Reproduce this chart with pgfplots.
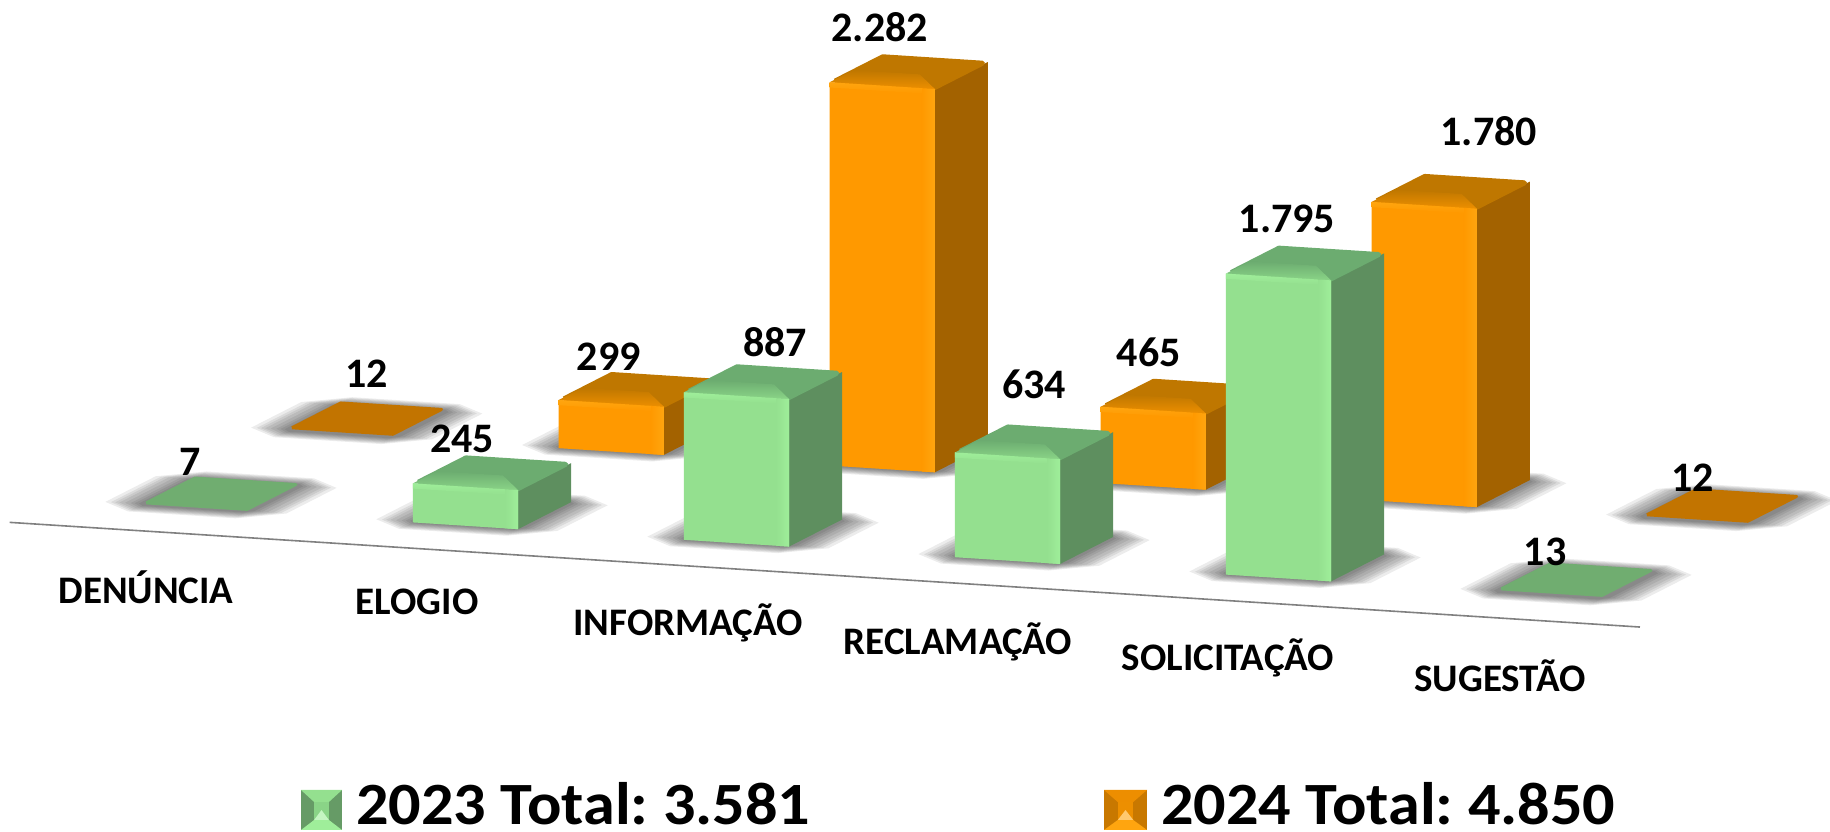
\documentclass[border=0pt]{standalone}
\usepackage{pgfplots}
\pgfplotsset{compat=1.18}
\usepackage{fontspec}
\setmainfont{Carlito}
\frenchspacing
\definecolor{gF}{HTML}{94E08F}\definecolor{gH}{HTML}{9FEE9A}\definecolor{gS}{HTML}{5E8F5F}
\definecolor{gT}{HTML}{6CAC70}\definecolor{gB}{HTML}{8AD487}\definecolor{gFlat}{HTML}{70AD70}
\definecolor{oF}{HTML}{FF9900}\definecolor{oH}{HTML}{FFA50F}\definecolor{oS}{HTML}{A36200}
\definecolor{oT}{HTML}{BF7700}\definecolor{oB}{HTML}{ED8F00}\definecolor{oFlat}{HTML}{C27400}
% shadow on the floor under a bar: cat, depth position, x spread, y spread
\newcommand\shadowlayer[4]{%
  \pgfmathsetmacro\sxa{#1-0.194-#3}\pgfmathsetmacro\sxb{#1+0.194+#3}%
  \pgfmathsetmacro\sya{#2-#4}\pgfmathsetmacro\syb{#2+1+#4}%
  \pgfmathsetmacro\sxc{\sxa+0.9*#3+0.01}\pgfmathsetmacro\sxd{\sxb-0.9*#3-0.01}%
  \pgfmathsetmacro\syc{\sya+0.9*#4+0.05}\pgfmathsetmacro\syd{\syb-0.9*#4-0.05}%
  \addplot3[forget plot,draw=none,fill=black,fill opacity=0.075] coordinates {(\sxc,\sya,0)(\sxd,\sya,0)(\sxb,\syc,0)(\sxb,\syd,0)(\sxd,\syb,0)(\sxc,\syb,0)(\sxa,\syd,0)(\sxa,\syc,0)(\sxc,\sya,0)};}
\newcommand\shadow[2]{%
  \shadowlayer{#1}{#2}{0.14}{0.24}\shadowlayer{#1}{#2}{0.12}{0.21}\shadowlayer{#1}{#2}{0.105}{0.18}%
  \shadowlayer{#1}{#2}{0.09}{0.15}\shadowlayer{#1}{#2}{0.07}{0.12}\shadowlayer{#1}{#2}{0.05}{0.09}%
  \shadowlayer{#1}{#2}{0.035}{0.06}\shadowlayer{#1}{#2}{0.02}{0.03}}
% bar: cat, depth position, value, colour prefix
\newcommand\barthree[4]{%
  \pgfmathsetmacro\xa{#1-0.194}\pgfmathsetmacro\xb{#1+0.194}\pgfmathsetmacro\xc{#1+0.194-0.048}%
  \pgfmathsetmacro\xd{#1+0.194-0.144}\pgfmathsetmacro\xi{#1-0.194+0.01}\pgfmathsetmacro\xj{#1+0.194-0.01}%
  \pgfmathsetmacro\ya{#2}\pgfmathsetmacro\yb{#2+1}\pgfmathsetmacro\ym{#2+0.45}\pgfmathsetmacro\yi{#2+0.05}\pgfmathsetmacro\yj{#2+0.95}%
  \pgfmathsetmacro\zt{#3}\pgfmathsetmacro\zs{#3-45}\pgfmathsetmacro\zu{#3-14}%
  \addplot3[forget plot,draw=none,fill=#4S] coordinates {(\xb,\ya,0)(\xb,\yb,0)(\xb,\yb,\zu)(\xb,\ya,\zu)(\xb,\ya,0)};
  \addplot3[forget plot,draw=#4T,line width=5pt,line join=round,fill=#4T] coordinates {(\xi,\yi,\zu)(\xj,\yi,\zu)(\xj,\yj,\zu)(\xi,\yj,\zu)(\xi,\yi,\zu)};
  \addplot3[forget plot,draw=none,top color=#4T,bottom color=#4B] coordinates {(\xa,\ya,\zu)(\xb,\ya,\zu)(\xd,\ym,\zu)(\xa,\ym,\zu)(\xa,\ya,\zu)};
  \addplot3[forget plot,draw=none,fill=#4F] coordinates {(\xa,\ya,0)(\xb,\ya,0)(\xb,\ya,\zu)(\xa,\ya,\zu)(\xa,\ya,0)};
  \addplot3[forget plot,draw=none,left color=#4F,right color=#4H] coordinates {(\xc,\ya,0)(\xb,\ya,0)(\xb,\ya,\zu)(\xc,\ya,\zu)(\xc,\ya,0)};
  \addplot3[forget plot,draw=none,top color=#4H,bottom color=#4F] coordinates {(\xa,\ya,\zs)(\xc,\ya,\zs)(\xc,\ya,\zu)(\xa,\ya,\zu)(\xa,\ya,\zs)};
}
\newcommand\flatbar[4]{%
  \pgfmathsetmacro\xa{#1-0.194+0.008}\pgfmathsetmacro\xb{#1+0.194-0.008}%
  \pgfmathsetmacro\ya{#2+0.04}\pgfmathsetmacro\yb{#2+0.96}%
  \addplot3[forget plot,draw=#4Flat,line width=3pt,line join=round,fill=#4Flat] coordinates {(\xa,\ya,#3)(\xb,\ya,#3)(\xb,\yb,#3)(\xa,\yb,#3)(\xa,\ya,#3)};
}
% value label: cat, depth centre, value, text, xshift, yshift
\newcommand\vlab[6]{\node[font=\fontsize{42}{42}\selectfont\bfseries,xshift=#5pt,yshift=#6pt] at (axis cs:#1,#2,#3) {#4};}
\newcommand\clab[3]{\node[font=\fontsize{39}{39}\selectfont\bfseries] at (#1pt,832pt-#2pt) {#3};}
% legend swatch: left, width; colours
\newcommand\swatch[6]{%
  \fill[#3] (#1pt,2pt) rectangle (#1pt+#2pt,42pt);
  \fill[#4] (#1pt,42pt) -- (#1pt+#2pt,42pt) -- (#1pt+#2pt*0.68,30pt) -- (#1pt+#2pt*0.32,30pt) -- cycle;
  \fill[#5] (#1pt,2pt) -- (#1pt+#2pt,2pt) -- (#1pt+#2pt*0.68,12pt) -- (#1pt+#2pt*0.32,12pt) -- cycle;
  \fill[#6] (#1pt+#2pt*0.32,12pt) rectangle (#1pt+#2pt*0.68,30pt);
  \fill[#5!60!white] (#1pt+#2pt*0.5,22pt) -- (#1pt+#2pt*0.68,12pt) -- (#1pt+#2pt*0.32,12pt) -- cycle;}
\begin{document}
\begin{tikzpicture}[x=1pt,y=1pt]
\path[use as bounding box] (0pt,0pt) rectangle (1830pt,832pt);
\begin{axis}[
  at={(194.5pt,323.6pt)},anchor=origin,hide axis,clip=false,
  x={(271pt,-17.4pt)},y={(53pt,27pt)},z={(0pt,0.169pt)},
  xmin=-1,xmax=6,ymin=-2,ymax=5,zmin=-100,zmax=2400]
% shadows
\shadow{0}{2.75}\shadow{1}{2.75}\shadow{2}{2.75}\shadow{3}{2.75}\shadow{4}{2.75}\shadow{5}{2.75}
\shadow{0}{0}\shadow{1}{0}\shadow{2}{0}\shadow{3}{0}\shadow{4}{0}\shadow{5}{0}
% floor line
\addplot3[forget plot,draw=black!50,line width=1.6pt,mark=none] coordinates {(-0.516,-0.85,0)(5.5,-0.85,0)};
% 2024
\flatbar{0}{2.75}{12}{o}
\barthree{1}{2.75}{299}{o}
\barthree{2}{2.75}{2282}{o}
\barthree{3}{2.75}{465}{o}
\barthree{4}{2.75}{1780}{o}
\flatbar{5}{2.75}{12}{o}
% 2023
\flatbar{0}{0}{7}{g}
\barthree{1}{0}{245}{g}
\barthree{2}{0}{887}{g}
\barthree{3}{0}{634}{g}
\barthree{4}{0}{1795}{g}
\flatbar{5}{0}{13}{g}
% value labels
\vlab{0}{0.5}{7}{7}{-31}{32}
\vlab{0}{3.25}{12}{12}{0}{45}
\vlab{1}{0.5}{245}{245}{-30}{32}
\vlab{1}{3.25}{299}{299}{-29}{31}
\vlab{2}{0.5}{887}{887}{12}{38}
\vlab{2}{3.25}{2282}{2.282}{-29}{43}
\vlab{3}{0.5}{634}{634}{0}{56}
\vlab{3}{3.25}{465}{465}{-31}{42}
\vlab{4}{0.5}{1795}{1.795}{-18}{42}
\vlab{4}{3.25}{1780}{1.780}{38}{58}
\vlab{5}{0.5}{13}{13}{-31}{28}
\vlab{5}{3.25}{12}{12}{-29}{28}
\end{axis}
% category labels
\clab{146}{587}{DENÚNCIA}
\clab{417}{602}{ELOGIO}
\clab{688}{623}{INFORMAÇÃO}
\clab{958}{642}{RECLAMAÇÃO}
\clab{1228}{658}{SOLICITAÇÃO}
\clab{1500}{676}{SUGESTÃO}
% legend
\swatch{301}{41}{gS!85!gF}{gF}{gH}{gB}
\swatch{1104}{43}{oS!60!oF}{oF!80!oS}{oH}{oB}
\node[anchor=west,xscale=1.07,font=\fontsize{60}{60}\selectfont\bfseries,inner sep=0pt] at (356pt,28pt) {2023 Total: 3.581};
\node[anchor=west,xscale=1.07,font=\fontsize{60}{60}\selectfont\bfseries,inner sep=0pt] at (1161pt,28pt) {2024 Total: 4.850};
\end{tikzpicture}
\end{document}
